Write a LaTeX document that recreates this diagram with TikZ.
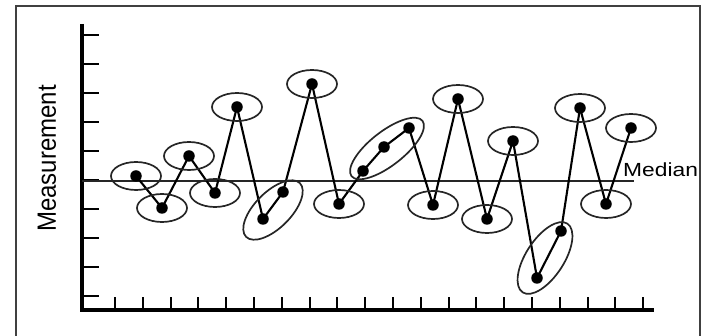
\documentclass[tikz,border=0pt]{standalone}
\usepackage{fontspec}
\setmainfont{Liberation Sans}
\usepackage{tikz}
\usetikzlibrary{calc}
\tikzset{basic/.style={draw=black!85,line width=1.7pt}}
\tikzset{ring/.style={basic}}
\def\tickgap{27.8}

\begin{document}
\begin{tikzpicture}[x=1pt,y=-1pt]
    \tikzstyle{dot}=[circle,fill=black,minimum width=11.5pt,minimum height=10.5pt,inner sep=0pt]
    \tikzstyle{zig}=[line width=2.1pt,black]
    \tikzstyle{axis}=[line width=3.3pt,black]
    \tikzstyle{tick}=[line width=1.9pt,black]
    \useasboundingbox (0,0) rectangle (704,336);

    % frame
    \draw[black!75,line width=1.7pt] (16,336) -- (16,6) -- (700,6) -- (700,336);

    % axes
    \coordinate (o) at (82,310);
    \coordinate (ytop) at (82,24);
    \coordinate (xend) at (654,310);
    \foreach \k in {0,...,9}
        \draw[tick] (82,35+29*\k) -- ++(17,0);
    \foreach \k in {0,...,19}
        \draw[tick] (115+\tickgap*\k,310) -- ++(0,-13);
    \draw[axis] (ytop) -- (o) -- (xend);

    % median
    \coordinate (m0) at (82,181);
    \coordinate (m1) at (634,181);
    \draw[basic] (m0) -- (m1);

    % points
    \foreach \x/\y [count=\i] in {136/176,162/208,189/156,215/193,237/107,
        263/219,283/192,312/84,339/204,363/171,384/147,409/128,433/205,
        458/99,487/219,513/141,537/278,561/231,580/108,606/204,631/128}{%
          \node[dot] (p\i) at (\x,\y) {};
        }
    \foreach \i [evaluate=\i as \j using int(\i+1)] in {1,...,20}
        \draw[zig] (p\i.center) -- (p\j.center);

    % rings
    \foreach \i in {1,2,3,4,5,8,9,13,14,15,16,19,20,21}
        \draw[ring] (p\i.center) ellipse [x radius=25, y radius=14];
    \coordinate (g1) at (273,210);
    \coordinate (g2) at (387,148.5);
    \coordinate (g3) at (545,258);
    \draw[ring,rotate around={45:(g1)}] (g1) ellipse [x radius=38, y radius=18];
    \draw[ring,rotate around={38:(g2)}] (g2) ellipse [x radius=45, y radius=17];
    \draw[ring,rotate around={57:(g3)}] (g3) ellipse [x radius=41, y radius=19];

    % Labels
    \node[anchor=base west,inner sep=0pt] (median) at (623,177)
        {\fontsize{19}{19}\selectfont\scalebox{1.2}[1]{Median}};
    \node[rotate=90,inner sep=0pt] (ylabel) at (47,158.5)
        {\fontsize{24}{24}\selectfont\scalebox{1}[1.1]{Measurement}};
\end{tikzpicture}
\end{document}
